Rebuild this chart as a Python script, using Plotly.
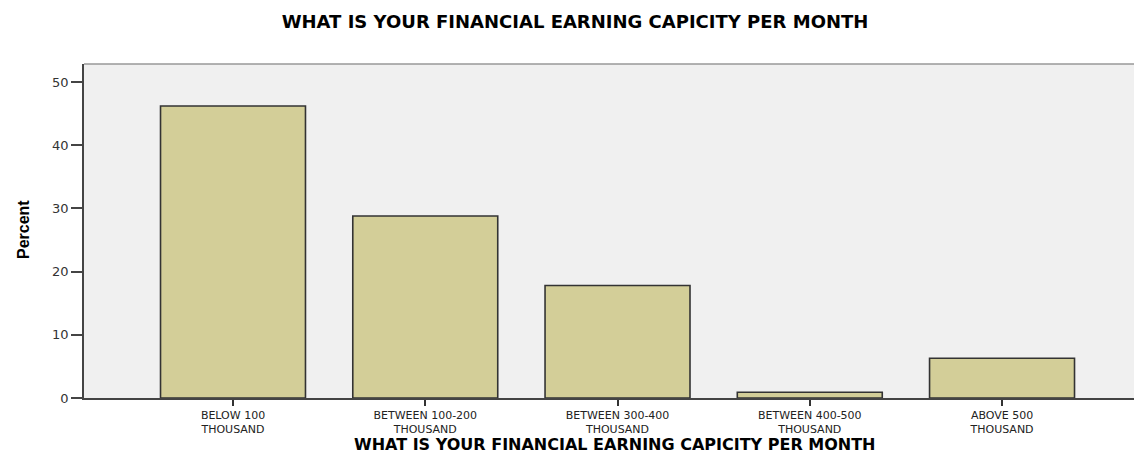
import plotly.graph_objects as go

categories = ["BELOW 100 THOUSAND", "BETWEEN 100-200 THOUSAND", "BETWEEN 300-400 THOUSAND",
              "BETWEEN 400-500 THOUSAND", "ABOVE 500 THOUSAND"]
tick_labels = ["BELOW 100<br>THOUSAND", "BETWEEN 100-200<br>THOUSAND", "BETWEEN 300-400<br>THOUSAND",
               "BETWEEN 400-500<br>THOUSAND", "ABOVE 500<br>THOUSAND"]
percent = [46.2, 28.8, 17.8, 0.9, 6.3]
y_ticks = [0, 10, 20, 30, 40, 50]

title_text = "WHAT IS YOUR FINANCIAL EARNING CAPICITY PER MONTH"

# page has an 8px body margin; figure sized to fill the rest of the window
W, H = 1134, 446

fig = go.Figure()
fig.add_trace(go.Bar(
    x=categories, y=percent,
    marker=dict(color="#D3CE98", line=dict(color="#333333", width=1.6)),
    hoverinfo="x+y",
))

fig.update_layout(
    width=W, height=H,
    margin=dict(l=76, r=0, t=56, b=56),
    paper_bgcolor="white",
    plot_bgcolor="#F0F0F0",
    bargap=0.246,
    showlegend=False,
    title=dict(text=title_text, x=0.5, xanchor="center", y=1 - 14 / H, yanchor="middle",
               font=dict(family="DejaVu Sans", size=18, color="black", weight="bold")),
    font=dict(family="DejaVu Sans", color="#222222"),
)

fig.update_xaxes(
    type="category",
    range=[-0.775, 4.728],
    tickmode="array", tickvals=categories, ticktext=tick_labels,
    ticks="outside", ticklen=6, tickcolor="#333333", tickwidth=1.5,
    showline=True, linecolor="#444444", linewidth=1.5,
    showgrid=False, zeroline=False,
    tickfont=dict(family="DejaVu Sans", size=11, color="#222222"),
)
fig.update_yaxes(
    range=[0, 52.85],
    tickmode="array", tickvals=y_ticks,
    ticks="outside", ticklen=11, tickcolor="#444444", tickwidth=1.5,
    showline=True, linecolor="#444444", linewidth=1.5,
    showgrid=False, zeroline=False,
    tickfont=dict(family="DejaVu Sans", size=13, color="#333333"),
)

# top border of the plot area
fig.add_shape(type="line", xref="paper", yref="paper", x0=0, x1=1, y0=1, y1=1,
              line=dict(color="#999999", width=1.5))

# y axis title
fig.add_annotation(text="Percent", xref="paper", yref="paper",
                   x=(23 - 84) / 1058, y=(398 - 230) / 334, textangle=-90,
                   showarrow=False, xanchor="center", yanchor="middle",
                   font=dict(family="Liberation Sans Narrow, Liberation Sans", size=16,
                             color="black", weight="bold"))

# x axis title
fig.add_annotation(text=title_text, xref="paper", yref="paper",
                   x=(615 - 84) / 1058, y=(398 - 444) / 334,
                   showarrow=False, xanchor="center", yanchor="middle",
                   font=dict(family="DejaVu Sans", size=16, color="black", weight="bold"))

fig.write_html("out.html")
